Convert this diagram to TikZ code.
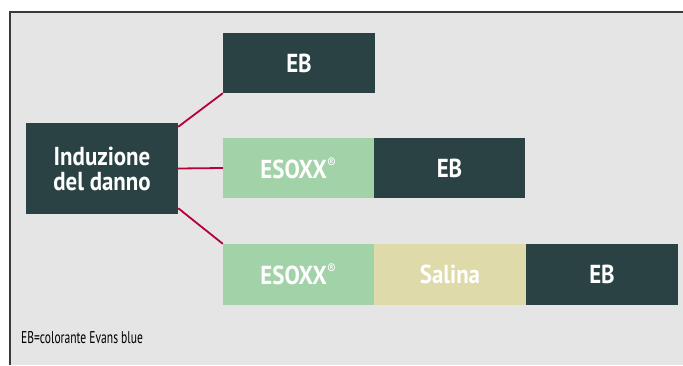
\documentclass[tikz,border=0pt]{standalone}
\usepackage{fontspec}
\setmainfont[FakeStretch=0.88]{PT Sans}
\newfontfamily\capfont[FakeStretch=0.68]{PT Sans}
\definecolor{darkbox}{HTML}{2B4244}
\definecolor{greenbox}{HTML}{A2D2A7}
\definecolor{salbox}{HTML}{DEDAAA}
\definecolor{linkcol}{HTML}{B5003C}
\definecolor{bgcol}{HTML}{E5E5E5}
\definecolor{framecol}{HTML}{3A3A3A}
\tikzset{
  box/.style={inner sep=0pt, minimum height=60pt, minimum width=152pt, text=white,
    font=\bfseries\fontsize{26}{25}\selectfont, align=center},
  darkb/.style={box, fill=darkbox},
  greenb/.style={box, fill=greenbox},
  salb/.style={box, fill=salbox},
  link/.style={draw=linkcol, line width=1.8pt},
}
\newcommand{\regmark}{\raisebox{1pt}{\textsuperscript{\mdseries\fontsize{15}{15}\selectfont ®}}}
\begin{document}
\begin{tikzpicture}[x=1pt,y=-1pt]
\useasboundingbox (0,0) rectangle (683,365);
\fill[white] (0,0) rectangle (683,365);
\fill[bgcol] (10,12) rectangle (683,365);
\draw[framecol, line width=1.5pt] (9.8,365) -- (9.8,11.8) -- (683,11.8);

\node[darkb, minimum height=91pt] (induz) at (102,168.5) {Induzione\\del danno};
\node[darkb] (eb1) at (299,63) {EB};
\node[greenb, minimum width=151pt] (es2) at (298.5,168) {ESOXX\regmark};
\node[darkb, minimum width=151pt] (eb2) at (449.5,168) {EB};
\node[greenb, minimum width=151pt, minimum height=61pt] (es3) at (298.5,274.5) {ESOXX\regmark};
\node[salb, minimum height=61pt] (sal3) at (450,274.5) {Salina};
\node[darkb, minimum height=61pt] (eb3) at (602,274.5) {EB};

\draw[link] ([yshift=-4pt]induz.north east) -- (eb1.south west);
\draw[link] (induz.east) -- (es2.west);
\draw[link] ([yshift=6pt]induz.south east) -- (es3.north west);

\node[anchor=base west, inner sep=0pt, font=\capfont\fontsize{17}{18}\selectfont] (cap) at (21,343) {EB=colorante Evans blue};
\end{tikzpicture}
\end{document}
